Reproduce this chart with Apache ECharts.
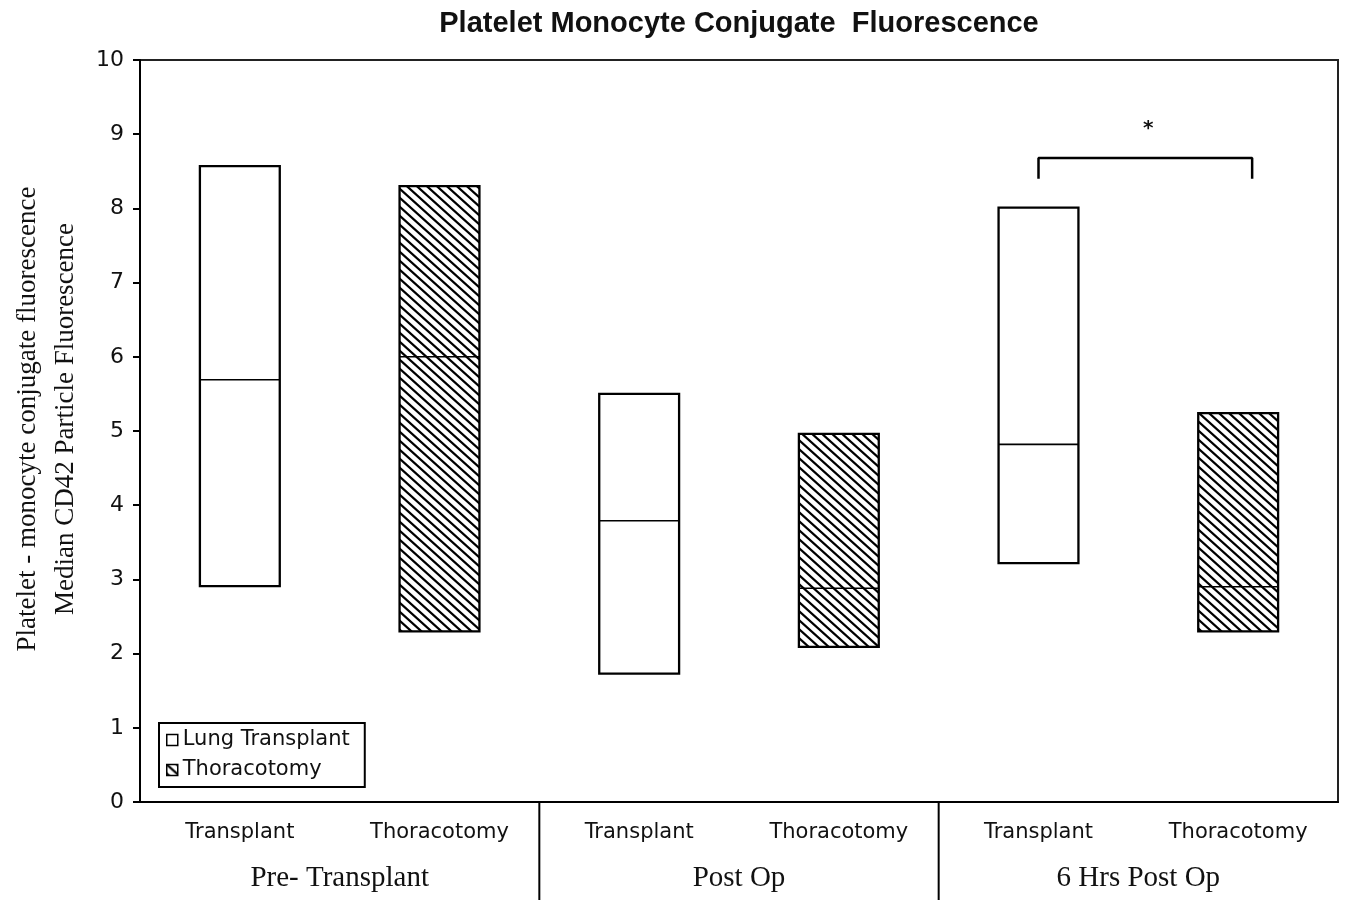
<!DOCTYPE html>
<html><head><meta charset="UTF-8">
<title>Platelet Monocyte Conjugate Fluorescence</title>
<script src="https://cdn.jsdelivr.net/npm/echarts@6/dist/echarts.min.js"></script>
<style>
    *{ margin:0; padding:0; }
    html,body{ width:100%; height:100%; background:#fff; }
    #main{ width:1349px; height:900px; }
</style>
</head>
<body>
<div id="main"></div>
<script>
    var categories = ['Transplant', 'Thoracotomy', 'Transplant', 'Thoracotomy', 'Transplant', 'Thoracotomy'];
    var groups = ['Pre- Transplant', 'Post Op', '6 Hrs Post Op'];
    // [position, low, median, high]
    var transplantBoxes = [[0, 2.91, 5.69, 8.57], [2, 1.73, 3.79, 5.50], [4, 3.22, 4.82, 8.01]];
    var thoracotomyBoxes = [[1, 2.30, 6.00, 8.30], [3, 2.09, 2.88, 4.96], [5, 2.30, 2.90, 5.24]];
    var groupBreaks = [[1.5], [3.5]];
    var bracket = [[4, 8.40], [4, 8.68], [5.07, 8.68], [5.07, 8.40]];
    var starMark = [[4.55, 9.07]];

    // hatch fill, lines running down to the right
    function makeHatch() {
        var w = 10, h = 9;
        var c = document.createElement('canvas');
        c.width = w; c.height = h;
        var ctx = c.getContext('2d');
        ctx.fillStyle = '#fff';
        ctx.fillRect(0, 0, w, h);
        ctx.strokeStyle = '#000';
        ctx.lineWidth = 2.2;
        for (var k = -1; k <= 1; k++) {
            ctx.beginPath();
            ctx.moveTo(k * w - w, -h);
            ctx.lineTo(k * w + 2 * w, 2 * h);
            ctx.stroke();
        }
        return { image: c, repeat: 'repeat' };
    }
    var hatch = makeHatch();

    function renderBox(fill) {
        return function (params, api) {
            var x = api.value(0);
            var lo = api.coord([x, api.value(1)]);
            var md = api.coord([x, api.value(2)]);
            var hi = api.coord([x, api.value(3)]);
            var w = api.size([1, 0])[0] * 0.4;
            return {
                type: 'group',
                children: [
                    { type: 'rect', shape: { x: lo[0] - w / 2, y: hi[1], width: w, height: lo[1] - hi[1] },
                      style: { fill: fill, stroke: '#000', lineWidth: 2.3 } },
                    { type: 'line', shape: { x1: lo[0] - w / 2, y1: md[1], x2: lo[0] + w / 2, y2: md[1] },
                      style: { stroke: '#000', lineWidth: 1.6 } }
                ]
            };
        };
    }

    var chart = echarts.init(document.getElementById('main'));
    chart.setOption({
        animation: false,
        backgroundColor: '#fff',
        title: {
            text: 'Platelet Monocyte Conjugate  Fluorescence',
            left: 734, top: 4, textAlign: 'center',
            textStyle: { fontFamily: 'Liberation Sans', fontWeight: 'bold', fontSize: 29, color: '#111' }
        },
        legend: {
            orient: 'vertical', left: 159, top: 723,
            padding: [6, 15, 6, 7], itemGap: 8,
            borderColor: '#000', borderWidth: 2,
            itemWidth: 11, itemHeight: 11, icon: 'rect',
            textStyle: { fontFamily: 'DejaVu Sans', fontSize: 21, color: '#111', lineHeight: 22 },
            data: [
                { name: 'Lung Transplant', itemStyle: { color: '#fff', borderColor: '#000', borderWidth: 1.5 } },
                { name: 'Thoracotomy', itemStyle: { color: hatch, borderColor: '#000', borderWidth: 1.5 } }
            ]
        },
        grid: { left: 140, right: 11, top: 60, bottom: 98, show: true, borderColor: '#222', borderWidth: 2 },
        xAxis: [
            {
                type: 'category', data: categories, position: 'bottom',
                axisLine: { lineStyle: { color: '#000', width: 2 } },
                axisTick: { length: 7, lineStyle: { color: '#000', width: 2 } },
                axisLabel: { interval: 0, margin: 20, fontFamily: 'DejaVu Sans', fontSize: 21, color: '#111' }
            },
            {
                type: 'category', data: groups, position: 'bottom', offset: 50,
                axisLine: { show: false }, axisTick: { show: false },
                axisLabel: { interval: 0, margin: 12, fontFamily: 'Liberation Serif', fontSize: 29, color: '#111' }
            },
            { type: 'value', min: -0.5, max: 5.5, show: false }
        ],
        yAxis: {
            type: 'value', min: 0, max: 10, interval: 1,
            name: 'Platelet - monocyte conjugate fluorescence\nMedian CD42 Particle Fluorescence',
            nameLocation: 'middle', nameGap: 55,
            nameTextStyle: { fontFamily: 'Liberation Serif', fontSize: 27, lineHeight: 38, color: '#111', padding: [0, 0, 0, 24] },
            axisLine: { show: true, onZero: false, lineStyle: { color: '#000', width: 2 } },
            axisTick: { show: true, length: 7, lineStyle: { color: '#000', width: 2 } },
            splitLine: { show: false },
            axisLabel: { margin: 16, fontFamily: 'DejaVu Sans', fontSize: 22, color: '#111' }
        },
        series: [
            {
                name: 'Lung Transplant', type: 'custom', xAxisIndex: 2,
                itemStyle: { color: '#fff', borderColor: '#000' },
                encode: { x: 0, y: [1, 2, 3] },
                renderItem: renderBox('#fff'), data: transplantBoxes
            },
            {
                name: 'Thoracotomy', type: 'custom', xAxisIndex: 2,
                itemStyle: { color: hatch, borderColor: '#000' },
                encode: { x: 0, y: [1, 2, 3] },
                renderItem: renderBox(hatch), data: thoracotomyBoxes
            },
            {
                type: 'custom', xAxisIndex: 2, clip: false, silent: true,
                renderItem: function (params, api) {
                    var p = api.coord([api.value(0), 0]);
                    return { type: 'line', shape: { x1: p[0], y1: p[1], x2: p[0], y2: api.getHeight() },
                             style: { stroke: '#000', lineWidth: 2 } };
                },
                data: groupBreaks
            },
            {
                type: 'line', xAxisIndex: 2, data: bracket, symbol: 'none', silent: true,
                lineStyle: { color: '#000', width: 2.5 }
            },
            {
                type: 'custom', xAxisIndex: 2, silent: true,
                renderItem: function (params, api) {
                    var p = api.coord([api.value(0), api.value(1)]);
                    return { type: 'text', x: p[0], y: p[1],
                             style: { text: '*', fontFamily: 'DejaVu Sans', fontWeight: 'bold', fontSize: 20, fill: '#111', align: 'center', verticalAlign: 'middle' } };
                },
                data: starMark
            }
        ]
    });
</script>
</body></html>
